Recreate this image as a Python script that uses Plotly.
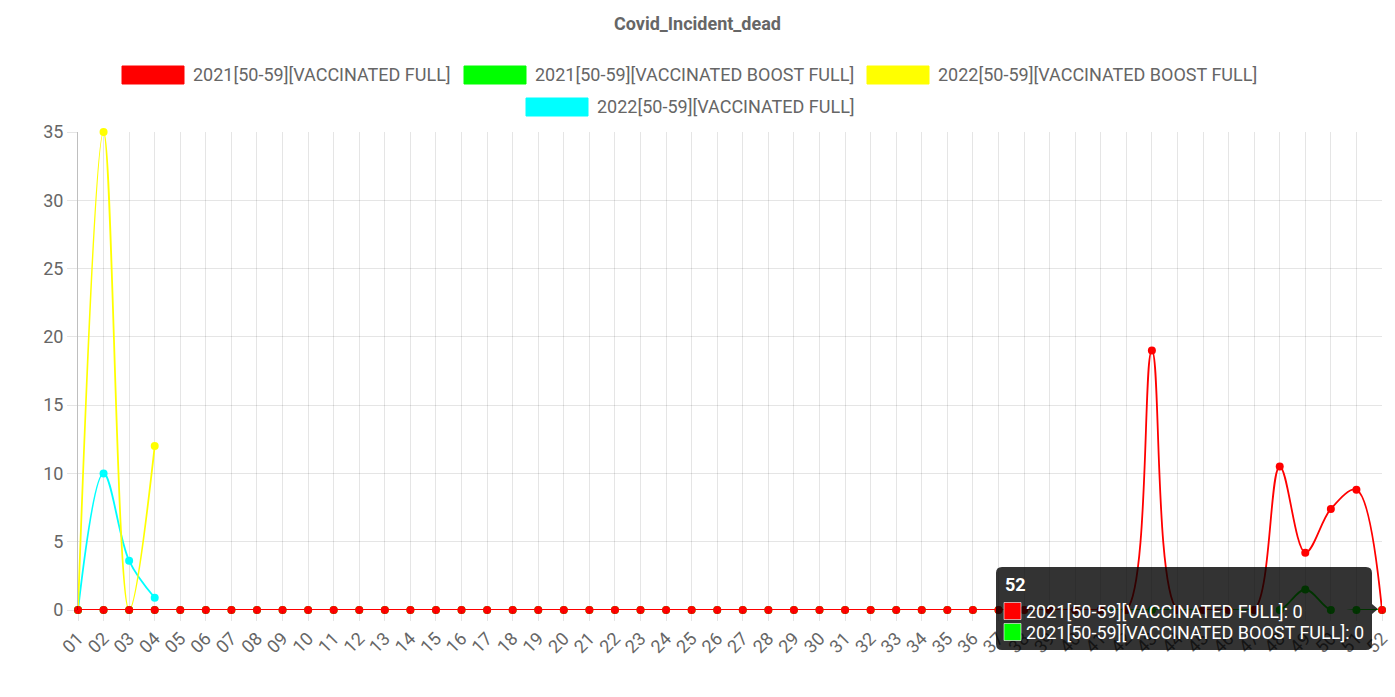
import plotly.graph_objects as go

weeks = ["01", "02", "03", "04", "05", "06", "07", "08", "09", "10",
         "11", "12", "13", "14", "15", "16", "17", "18", "19", "20",
         "21", "22", "23", "24", "25", "26", "27", "28", "29", "30",
         "31", "32", "33", "34", "35", "36", "37", "38", "39", "40",
         "41", "42", "43", "44", "45", "46", "47", "48", "49", "50",
         "51", "52"]

full_2021 = [0, 0, 0, 0, 0, 0, 0, 0, 0, 0,
             0, 0, 0, 0, 0, 0, 0, 0, 0, 0,
             0, 0, 0, 0, 0, 0, 0, 0, 0, 0,
             0, 0, 0, 0, 0, 0, 0, 0, 0, 0,
             0, 0, 19, 0, 0, 0, 0, 10.5, 4.2, 7.4,
             8.8, 0]
boost_2021 = [0, 0, 0, 0, 0, 0, 0, 0, 0, 0,
              0, 0, 0, 0, 0, 0, 0, 0, 0, 0,
              0, 0, 0, 0, 0, 0, 0, 0, 0, 0,
              0, 0, 0, 0, 0, 0, 0, 0, 0, 0,
              0, 0, 0, 0, 0, 0, 0, 0, 1.5, 0,
              0, 0]
boost_2022 = [0, 35, 0, 12]
full_2022 = [0, 10, 3.6, 0.9]

series_names = ["2021[50-59][VACCINATED FULL]", "2021[50-59][VACCINATED BOOST FULL]",
                "2022[50-59][VACCINATED BOOST FULL]", "2022[50-59][VACCINATED FULL]"]
series_colors = ["#ff0000", "#00ff00", "#ffff00", "#00ffff"]
series_data = [full_2021, boost_2021, boost_2022, full_2022]

W, H = 1395, 697
L, R, T, B = 78, 1382, 132, 610
FS = 18


def px(x):
    return (x - L) / (R - L)


def py(y):
    return (B - y) / (B - T)


fig = go.Figure()
# draw in reverse so the first dataset is on top (like Chart.js)
for name, color, data in reversed(list(zip(series_names, series_colors, series_data))):
    fig.add_trace(go.Scatter(
        x=weeks[:len(data)], y=data, name=name, mode="lines+markers",
        line=dict(color=color, width=1.8, shape="spline", smoothing=1),
        marker=dict(color=color, size=8),
        cliponaxis=False, showlegend=False, hoverinfo="skip"))

shapes = []
annotations = []
font_color = "#666666"

# Title
annotations.append(dict(text="<b>Covid_Incident_dead</b>", x=px(697), y=py(24), xref="paper", yref="paper",
                        showarrow=False, xanchor="center", yanchor="middle",
                        font=dict(family="Roboto", size=FS, color=font_color)))

# Manual legend (Chart.js style boxes)
legend_items = [(122, 75), (464, 75), (867, 75), (526, 107)]
for (bx, by), name, color in zip(legend_items, series_names, series_colors):
    shapes.append(dict(type="rect", xref="paper", yref="paper",
                       x0=px(bx), x1=px(bx + 62), y0=py(by - 9), y1=py(by + 9),
                       fillcolor=color, line=dict(color=color, width=1)))
    annotations.append(dict(text=name, x=px(bx + 69), y=py(by), xref="paper", yref="paper",
                            showarrow=False, xanchor="left", yanchor="middle",
                            font=dict(family="Roboto", size=FS, color=font_color)))

# Tooltip box (rounded)
x0, x1, y0, y1, r = 996, 1372, 567, 650, 6
path = (f"M {px(x0 + r)} {py(y0)} L {px(x1 - r)} {py(y0)} Q {px(x1)} {py(y0)} {px(x1)} {py(y0 + r)} "
        f"L {px(x1)} {py(604)} L {px(1378)} {py(609)} L {px(x1)} {py(614)} "
        f"L {px(x1)} {py(y1 - r)} Q {px(x1)} {py(y1)} {px(x1 - r)} {py(y1)} "
        f"L {px(x0 + r)} {py(y1)} Q {px(x0)} {py(y1)} {px(x0)} {py(y1 - r)} "
        f"L {px(x0)} {py(y0 + r)} Q {px(x0)} {py(y0)} {px(x0 + r)} {py(y0)} Z")
shapes.append(dict(type="path", xref="paper", yref="paper", path=path,
                   fillcolor="rgba(0,0,0,0.8)", line=dict(width=0), layer="above"))
annotations.append(dict(text="<b>" + weeks[-1] + "</b>", x=px(1003), y=py(584), xref="paper", yref="paper",
                        showarrow=False, xanchor="left", yanchor="middle",
                        font=dict(family="Roboto", size=FS, color="#ffffff")))
tip_rows = [(611, series_names[0], series_colors[0], full_2021[-1]),
            (632, series_names[1], series_colors[1], boost_2021[-1])]
for ry, name, color, val in tip_rows:
    shapes.append(dict(type="rect", xref="paper", yref="paper",
                       x0=px(1004), x1=px(1021), y0=py(ry - 8.5), y1=py(ry + 8.5),
                       fillcolor=color, line=dict(color="rgba(255,255,255,0.6)", width=1), layer="above"))
    annotations.append(dict(text=f"{name}: {val:g}", x=px(1024), y=py(ry), xref="paper", yref="paper",
                            showarrow=False, xanchor="left", yanchor="middle",
                            font=dict(family="Roboto", size=FS, color="#ffffff")))

fig.update_layout(
    width=W, height=H,
    margin=dict(l=L, r=W - R, t=T, b=H - B),
    paper_bgcolor="white", plot_bgcolor="white",
    shapes=shapes, annotations=annotations,
    showlegend=False, hovermode=False,
    font=dict(family="Roboto", color=font_color),
)
fig.update_xaxes(
    type="category", range=[0, len(weeks) - 1], categoryorder="array", categoryarray=weeks,
    showgrid=True, gridcolor="rgba(0,0,0,0.1)", gridwidth=1,
    ticks="outside", ticklen=10, tickcolor="rgba(0,0,0,0.1)",
    tickangle=-45, tickfont=dict(family="Roboto", size=FS, color=font_color),
    showline=False, zeroline=False, automargin=False,
)
fig.update_yaxes(
    range=[0, 35], tickvals=[0, 5, 10, 15, 20, 25, 30, 35],
    showgrid=True, gridcolor="rgba(0,0,0,0.1)", gridwidth=1,
    ticks="outside", ticklen=10, tickcolor="rgba(0,0,0,0.1)",
    tickfont=dict(family="Roboto", size=FS, color=font_color),
    showline=True, linecolor="rgba(0,0,0,0.25)", linewidth=1,
    zeroline=False, automargin=False,
)

fig.write_html("out.html", config={"displayModeBar": False},
               post_script="document.body.style.margin='0';document.body.style.padding='0';")
